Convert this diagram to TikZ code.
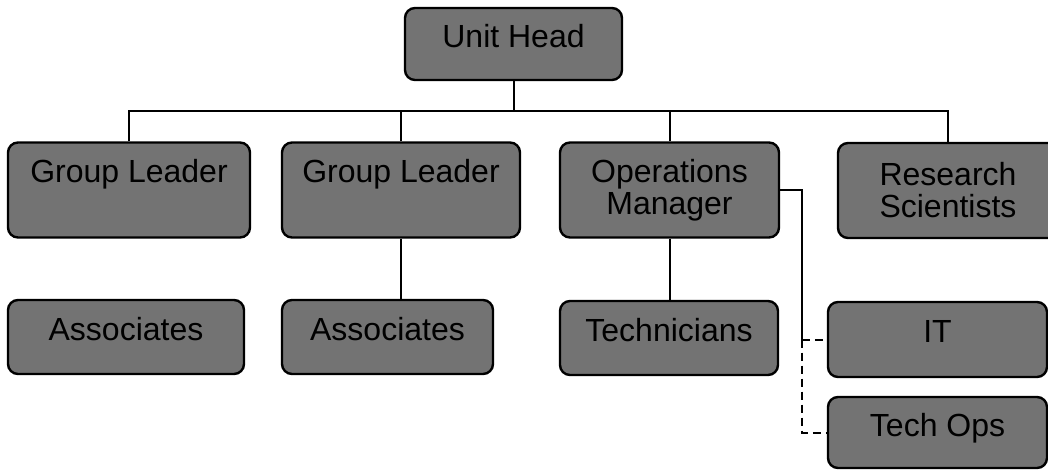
\documentclass[tikz,border=0pt]{standalone}
\usepackage{fontspec}
\setmainfont{Liberation Sans}
\tikzset{
  post/.style={draw,line width=2.4pt,rounded corners=10pt,fill=black!55,inner sep=0pt,align=center,font=\fontsize{32}{32}\selectfont},
  onerow/.style={post,text depth=16pt},
  link/.style={line width=2pt},
  dotlink/.style={link,dash pattern=on 8pt off 5pt}
}
\begin{document}
\begin{tikzpicture}[x=1pt,y=-1pt]
            \useasboundingbox (0,0) rectangle (1048,470);
            \node(uh)[onerow,minimum width=217pt,minimum height=72pt] at (513.5,44){Unit Head};
            \node(gl1)[post,minimum width=242pt,minimum height=95pt] at (129,190){Group Leader\\\vphantom{g}};
            \node(gl2)[post,minimum width=238pt,minimum height=95pt] at (401,190){Group Leader\\\vphantom{g}};
            \node(om)[post,minimum width=219pt,minimum height=95pt] at (669.5,190){Operations\\Manager};
            \node(rs)[post,minimum width=220pt,minimum height=95pt] at (948,190.5){Research\\Scientists};
            \node(as1)[onerow,minimum width=236pt,minimum height=74pt] at (126,337){Associates};
            \node(as2)[onerow,minimum width=211pt,minimum height=74pt] at (387.5,337){Associates};
            \node(tech)[onerow,minimum width=218pt,minimum height=74pt] at (669,338){Technicians};
            \node(it)[onerow,minimum width=219pt,minimum height=75pt] at (937.5,339.5){IT};
            \node(tops)[onerow,minimum width=219pt,minimum height=71pt] at (937.5,432.5){Tech Ops};
            \coordinate(bar) at (513.5,111);
            \coordinate(fork) at ([xshift=-25pt]it.west);
            \draw[link] (uh.south) -- (bar);
            \draw[link] (gl1.north) |- (bar) -| (rs.north);
            \draw[link] (gl2.north) -- (gl2.north |- bar);
            \draw[link] (om.north) -- (om.north |- bar);
            \draw[link] (gl2.south) -- (gl2.south |- as2.north);
            \draw[link] (om.south) -- (om.south |- tech.north);
            \draw[link] (om.east) -| (fork);
            \draw[dotlink] (fork) -- (it.west);
            \draw[dotlink] (fork) |- (tops.west);
        \end{tikzpicture}
\end{document}
